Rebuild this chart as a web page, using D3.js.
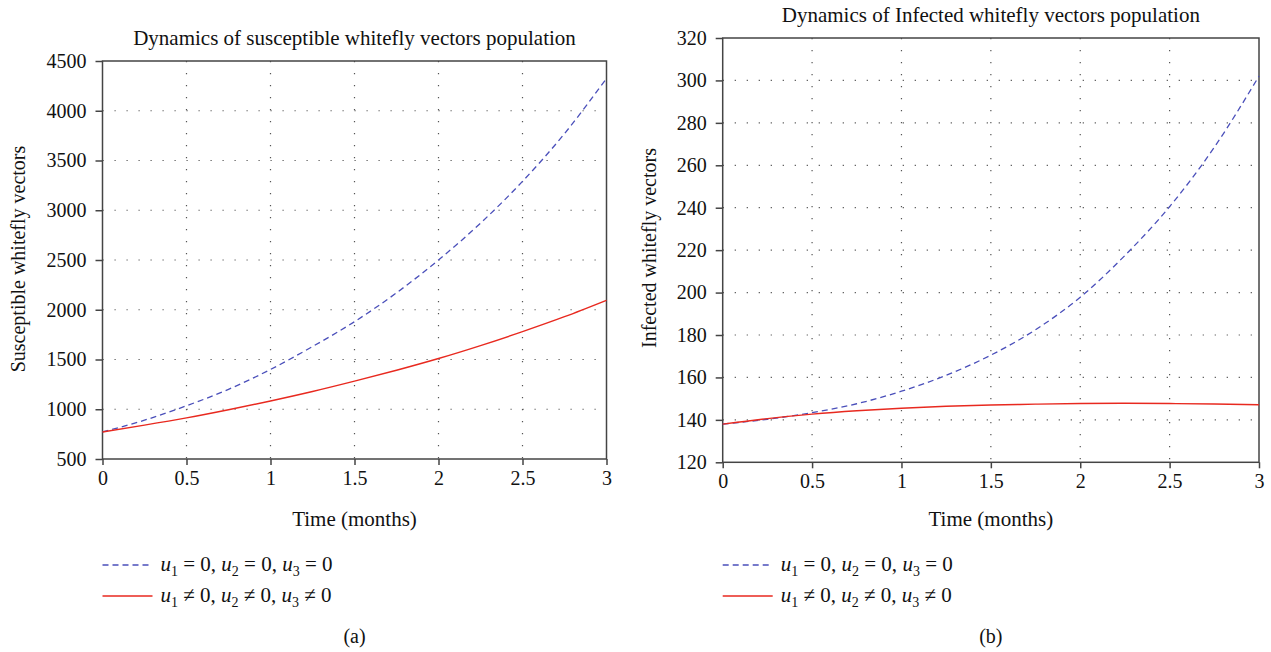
<!DOCTYPE html>
<html>
<head>
<meta charset="utf-8">
<script src="https://cdn.jsdelivr.net/npm/d3@7"></script>
<style>
    body { margin: 0; background: #fff; }
    svg { display: block; }
    text { font-family: "Liberation Serif", "DejaVu Serif", serif; fill: #111; }
    .axis path, .axis line { stroke: #444; stroke-width: 1.5; }
    .grid line { stroke: #555; stroke-width: 1.2; stroke-dasharray: 1.2 10.8; }
</style>
</head>
<body>
<svg id="chart" width="1271" height="652"></svg>
<script>
"use strict";

// time samples (months)
const timePoints = [0, 0.25, 0.5, 0.75, 1, 1.25, 1.5, 1.75, 2, 2.25, 2.5, 2.75, 3];
const timeTicks = [0, 0.5, 1, 1.5, 2, 2.5, 3];

// panel (a): susceptible whitefly vectors
const susceptibleNoControl = [772, 890, 1035, 1200, 1400, 1630, 1880, 2170, 2500, 2870, 3290, 3770, 4325];
const susceptibleControl = [772, 840, 913, 995, 1083, 1178, 1282, 1392, 1510, 1640, 1780, 1930, 2095];
const susceptibleTicks = [500, 1000, 1500, 2000, 2500, 3000, 3500, 4000, 4500];

// panel (b): infected whitefly vectors
const infectedNoControl = [138, 140.3, 143.4, 147.6, 153.5, 161.0, 170.5, 182.5, 197.8, 217.5, 240.5, 268.5, 302];
const infectedControl = [138, 140.6, 142.7, 144.3, 145.5, 146.4, 147.0, 147.4, 147.7, 147.8, 147.7, 147.5, 147.1];
const infectedTicks = [120, 140, 160, 180, 200, 220, 240, 260, 280, 300, 320];

const svg = d3.select("#chart");

// one panel of the figure
function drawPanel(opt) {
    const x = d3.scaleLinear().domain([0, 3]).range([opt.left, opt.right]);
    const y = d3.scaleLinear().domain([opt.yTicks[0], opt.yTicks[opt.yTicks.length - 1]])
        .range([opt.bottom, opt.top]);
    const g = svg.append("g");

    // dotted grid
    const grid = g.append("g").attr("class", "grid");
    grid.selectAll(".gx")
        .data(timeTicks.slice(1, -1))
        .enter().append("line")
        .attr("x1", d => x(d)).attr("x2", d => x(d))
        .attr("y1", opt.top).attr("y2", opt.bottom);
    grid.selectAll(".gy")
        .data(opt.yTicks.slice(1, -1))
        .enter().append("line")
        .attr("y1", d => y(d)).attr("y2", d => y(d))
        .attr("x1", opt.left).attr("x2", opt.right);

    // frame
    g.append("rect")
        .attr("x", opt.left).attr("y", opt.top)
        .attr("width", opt.right - opt.left).attr("height", opt.bottom - opt.top)
        .attr("fill", "none").attr("stroke", "#444").attr("stroke-width", 1.5);

    // axes
    const xAxis = g.append("g").attr("class", "axis")
        .attr("transform", `translate(0,${opt.bottom})`)
        .call(d3.axisBottom(x).tickValues(timeTicks).tickFormat(d3.format("~g")).tickSize(6).tickPadding(6));
    const yAxis = g.append("g").attr("class", "axis")
        .attr("transform", `translate(${opt.left},0)`)
        .call(d3.axisLeft(y).tickValues(opt.yTicks).tickFormat(d3.format("d")).tickSize(7).tickPadding(9));
    [xAxis, yAxis].forEach(a => {
        a.select(".domain").remove();
        a.selectAll("text").style("font-size", "20px").attr("fill", "#111")
            .style("font-family", '"Liberation Serif", "DejaVu Serif", serif');
    });

    // curves
    const line = d3.line()
        .x((d, i) => x(timePoints[i]))
        .y(d => y(d))
        .curve(d3.curveMonotoneX);
    g.append("path").datum(opt.noControl)
        .attr("d", line).attr("fill", "none")
        .attr("stroke", "#4a4fba").attr("stroke-width", 1.3)
        .attr("stroke-dasharray", "6 4");
    g.append("path").datum(opt.control)
        .attr("d", line).attr("fill", "none")
        .attr("stroke", "#e8291f").attr("stroke-width", 1.4);

    const cx = (opt.left + opt.right) / 2;

    // titles
    g.append("text").attr("x", cx).attr("y", opt.titleY)
        .attr("text-anchor", "middle").style("font-size", "21px").text(opt.title);
    g.append("text").attr("x", cx).attr("y", 526)
        .attr("text-anchor", "middle").style("font-size", "21px").text("Time (months)");
    g.append("text")
        .attr("transform", `translate(${opt.yLabelX},${opt.yLabelY}) rotate(-90)`)
        .attr("text-anchor", "middle").style("font-size", "20px").text(opt.yLabel);

    // legend
    const legend = [
        { y: 565, dash: "6 4", color: "#4a4fba", op: "=" },
        { y: 596, dash: null, color: "#e8291f", op: "\u2260" }
    ];
    legend.forEach(item => {
        g.append("line")
            .attr("x1", opt.left).attr("x2", opt.left + 50)
            .attr("y1", item.y).attr("y2", item.y)
            .attr("stroke", item.color).attr("stroke-width", 1.4)
            .attr("stroke-dasharray", item.dash);
        const t = g.append("text").attr("x", opt.left + 58).attr("y", item.y + 6)
            .style("font-size", "21px");
        [1, 2, 3].forEach((k, i) => {
            t.append("tspan").style("font-style", "italic").text((i > 0 ? " " : "") + "u");
            t.append("tspan").attr("dy", 5).style("font-size", "14px").text(k);
            t.append("tspan").attr("dy", -5).text(" " + item.op + " 0" + (i < 2 ? "," : ""));
        });
    });

    // caption
    g.append("text").attr("x", cx).attr("y", 643)
        .attr("text-anchor", "middle").style("font-size", "20px").text(opt.caption);
}

drawPanel({
    left: 102.5, right: 606.5, top: 61, bottom: 459,
    yTicks: susceptibleTicks,
    noControl: susceptibleNoControl, control: susceptibleControl,
    title: "Dynamics of susceptible whitefly vectors population", titleY: 45,
    yLabel: "Susceptible whitefly vectors", yLabelX: 25, yLabelY: 259,
    caption: "(a)"
});

drawPanel({
    left: 722.7, right: 1259, top: 38, bottom: 462.3,
    yTicks: infectedTicks,
    noControl: infectedNoControl, control: infectedControl,
    title: "Dynamics of Infected whitefly vectors population", titleY: 22,
    yLabel: "Infected whitefly vectors", yLabelX: 656, yLabelY: 248,
    caption: "(b)"
});
</script>
</body>
</html>
